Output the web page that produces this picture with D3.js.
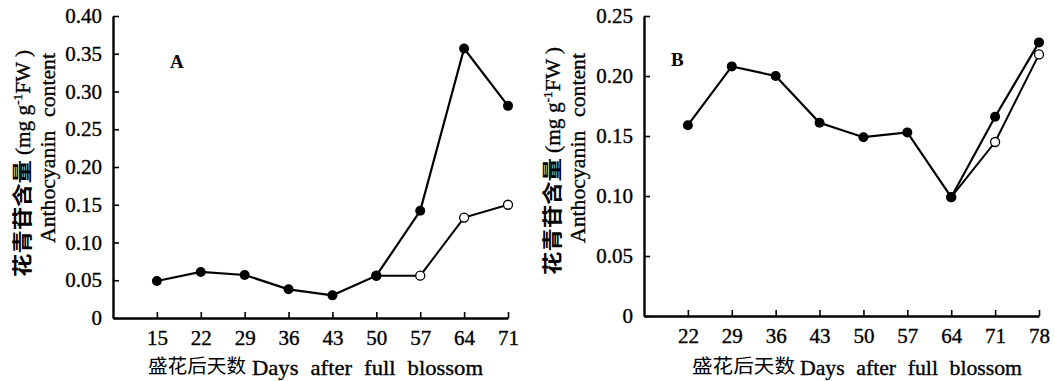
<!DOCTYPE html>
<html>
<head>
<meta charset="utf-8">
<script src="https://cdn.jsdelivr.net/npm/d3@7"></script>
<style>
  body { margin: 0; background: #fff; }
  svg { display: block; }
  text { font-family: "Liberation Serif", "Times New Roman", serif; fill: #000; }
  .serif { stroke: #000; stroke-width: 0.35; }
  .cjk { font-family: "Noto Sans CJK SC", sans-serif; }
</style>
</head>
<body>
<div id="chart"></div>
<script>
// DATA
var daysA = [15, 22, 29, 36, 43, 50, 57, 64, 71];
var filledA = [0.049, 0.061, 0.057, 0.038, 0.030, 0.056, 0.142, 0.357, 0.281];
var openDaysA = [50, 57, 64, 71];
var openA = [0.056, 0.056, 0.133, 0.150];
var yTicksA = [0, 0.05, 0.10, 0.15, 0.20, 0.25, 0.30, 0.35, 0.40];

var daysB = [22, 29, 36, 43, 50, 57, 64, 71, 78];
var filledB = [0.159, 0.208, 0.200, 0.161, 0.149, 0.153, 0.099, 0.166, 0.228];
var openDaysB = [64, 71, 78];
var openB = [0.099, 0.145, 0.218];
var yTicksB = [0, 0.05, 0.10, 0.15, 0.20, 0.25];

var xTitleCn = "盛花后天数";
var xTitleEn = "Days after full blossom";
var yTitleCn = "花青苷含量";
var yTitleEn = "Anthocyanin content";

var W = 1055, H = 381;
var svg = d3.select("#chart").append("svg")
  .attr("width", W)
  .attr("height", H);

function yFmt(d) { return d === 0 ? "0" : d3.format(".2f")(d); }

// text squeezed/stretched to span a measured length, like the scanned type
function fitText(g, x, y, str, size, len, cls) {
  return g.append("text")
    .attr("class", cls)
    .attr("x", x).attr("y", y)
    .attr("textLength", len)
    .attr("lengthAdjust", "spacingAndGlyphs")
    .style("font-size", size + "px")
    .text(str);
}

function panel(opt) {
  var x = d3.scaleLinear().domain(opt.xDomain).range([opt.left, opt.right]);
  var y = d3.scaleLinear().domain(opt.yDomain).range([opt.bottom, opt.top]);

  // axes, ticks point inwards
  var yAxis = d3.axisLeft(y).tickValues(opt.yTicks).tickFormat(yFmt)
    .tickSizeInner(-6).tickSizeOuter(0).tickPadding(11);
  var gy = svg.append("g")
    .attr("transform", "translate(" + opt.left + ",0)")
    .call(yAxis);

  var xAxis = d3.axisBottom(x).tickValues(opt.days)
    .tickSizeInner(-6).tickSizeOuter(0).tickPadding(12);
  var gx = svg.append("g")
    .attr("transform", "translate(0," + opt.bottom + ")")
    .call(xAxis);

  [gx, gy].forEach(function(g) {
    g.select(".domain").attr("stroke", "#000").attr("stroke-width", 2.4);
    g.selectAll(".tick line").attr("stroke", "#000").attr("stroke-width", 1.6);
    g.selectAll(".tick text")
      .attr("class", "serif")
      .style("font-family", "'Liberation Serif', serif")
      .style("font-size", "21px")
      .attr("fill", "#000");
  });

  var line = d3.line()
    .x(function(d) { return x(d[0]); })
    .y(function(d) { return y(d[1]); });

  // open-circle series first, filled series drawn over it
  var openPts = opt.openDays.map(function(d, i) { return [d, opt.open[i]]; });
  svg.append("path").datum(openPts)
    .attr("d", line)
    .attr("fill", "none").attr("stroke", "#000").attr("stroke-width", 2);
  svg.selectAll(null).data(openPts).enter().append("circle")
    .attr("cx", function(d) { return x(d[0]); })
    .attr("cy", function(d) { return y(d[1]); })
    .attr("r", 4.5)
    .attr("fill", "#fff").attr("stroke", "#000").attr("stroke-width", 1.3);

  var filledPts = opt.days.map(function(d, i) { return [d, opt.filled[i]]; });
  svg.append("path").datum(filledPts)
    .attr("d", line)
    .attr("fill", "none").attr("stroke", "#000").attr("stroke-width", 2.2);
  svg.selectAll(null).data(filledPts).enter().append("circle")
    .attr("cx", function(d) { return x(d[0]); })
    .attr("cy", function(d) { return y(d[1]); })
    .attr("r", 5)
    .attr("fill", "#000");

  // panel letter
  svg.append("text")
    .attr("x", opt.letterX).attr("y", opt.letterY)
    .style("font-size", "19px").style("font-weight", "bold")
    .text(opt.letter);

  // x title
  fitText(svg, opt.xt[0], 373, xTitleCn, 19, opt.xt[1] - opt.xt[0], "cjk");
  fitText(svg, opt.xt[2], 375, xTitleEn, 21, opt.xt[3] - opt.xt[2], "serif")
    .style("word-spacing", "6px");

  // y title: two lines, rotated
  var g1 = svg.append("g")
    .attr("transform", "translate(" + opt.yt1 + ",0) rotate(-90)");
  fitText(g1, -opt.cn[1], 0, yTitleCn, 20, opt.cn[1] - opt.cn[0], "cjk")
    .style("font-weight", "700");
  var unit = g1.append("text")
    .attr("class", "serif")
    .attr("x", -opt.unit[1]).attr("y", 0)
    .attr("textLength", opt.unit[1] - opt.unit[0])
    .attr("lengthAdjust", "spacingAndGlyphs")
    .style("font-size", "21px");
  unit.append("tspan").text("(mg g");
  unit.append("tspan").attr("dy", -8).style("font-size", "13px").text("-1");
  unit.append("tspan").attr("dy", 8).text("FW )");

  var g2 = svg.append("g")
    .attr("transform", "translate(" + opt.yt2 + ",0) rotate(-90)");
  fitText(g2, -opt.en[1], 0, yTitleEn, 21, opt.en[1] - opt.en[0], "serif")
    .style("word-spacing", "8px");
}

panel({
  days: daysA, filled: filledA, openDays: openDaysA, open: openA,
  yTicks: yTicksA, xDomain: [8, 71], yDomain: [0, 0.40],
  left: 113, right: 508, top: 16, bottom: 318,
  letter: "A", letterX: 170, letterY: 68,
  xt: [148, 246, 252, 483],
  yt1: 30, cn: [160, 277], unit: [50, 155],
  yt2: 55, en: [53, 243]
});

panel({
  days: daysB, filled: filledB, openDays: openDaysB, open: openB,
  yTicks: yTicksB, xDomain: [15, 78], yDomain: [0, 0.25],
  left: 644, right: 1039, top: 16, bottom: 316,
  letter: "B", letterX: 671, letterY: 66,
  xt: [692, 795, 800, 1022],
  yt1: 560, cn: [158, 275], unit: [47, 153],
  yt2: 585, en: [53, 243]
});
</script>
</body>
</html>
